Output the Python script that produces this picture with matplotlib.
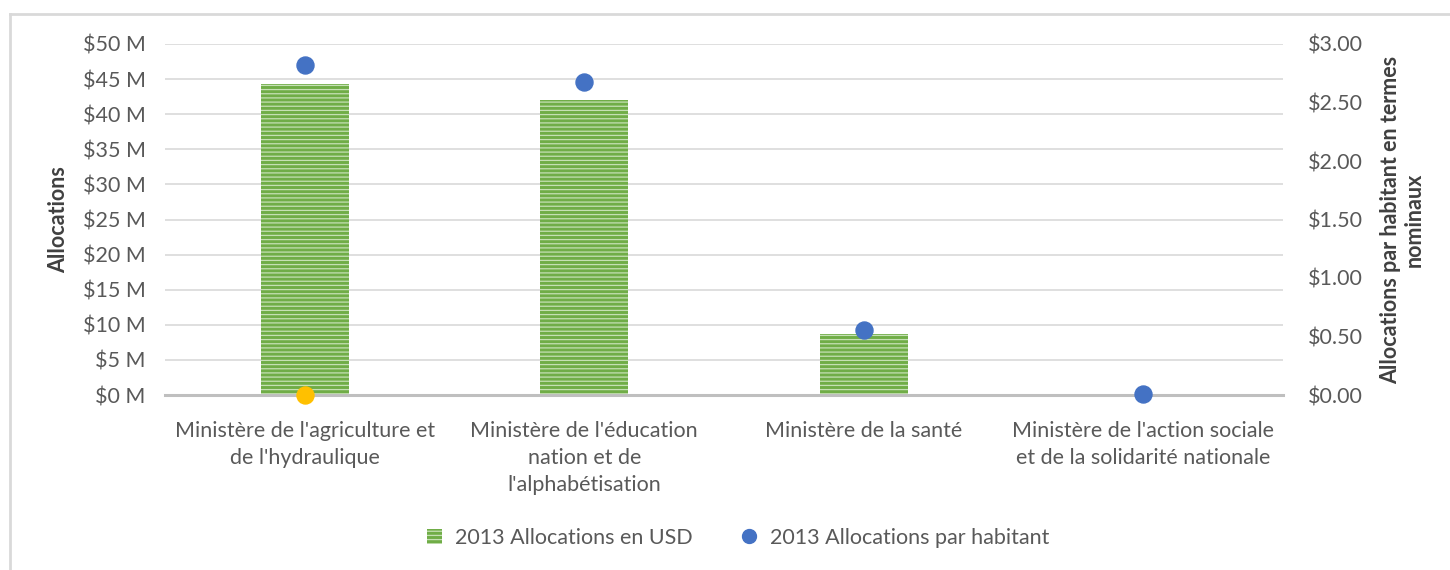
import matplotlib
matplotlib.use("Agg")
import matplotlib.pyplot as plt
from matplotlib.lines import Line2D
from matplotlib.patches import Patch
import numpy as np

plt.rcParams['font.family'] = ['Lato', 'DejaVu Sans']
plt.rcParams['hatch.color'] = '#C5E0B4'
plt.rcParams['hatch.linewidth'] = 0.9

categories = ["Ministère de l'agriculture et\nde l'hydraulique",
              "Ministère de l'éducation\nnation et de\nl'alphabétisation",
              "Ministère de la santé",
              "Ministère de l'action sociale\net de la solidarité nationale"]
alloc_usd_m = [44.3, 42.0, 8.7, 0.2]
alloc_per_capita = [2.82, 2.675, 0.556, 0.01]
extra_point = [0.0]  # orange point at first category

left_ticks = [0, 5, 10, 15, 20, 25, 30, 35, 40, 45, 50]
right_ticks = [0, 0.5, 1.0, 1.5, 2.0, 2.5, 3.0]

FS = 15.5
fig = plt.figure(figsize=(14.5, 5.7), dpi=100)
ax = fig.add_axes([165/1450, 1-395/570, (1283-165)/1450, (395-44)/570])
ax2 = ax.twinx()

x = np.arange(len(categories))
ax.bar(x, alloc_usd_m, width=0.315, color='#70AD47', hatch='----',
       edgecolor='#C5E0B4', linewidth=0, zorder=3)
ax.set_xlim(-0.5, len(categories)-0.5)
ax.set_ylim(0, 50)
ax.set_yticks(left_ticks)
ax.set_yticklabels([f"${t} M" for t in left_ticks])
ax.grid(axis='y', color='#D9D9D9', linewidth=1.2, zorder=0)
ax.set_axisbelow(True)
for s in ['top', 'right', 'left']:
    ax.spines[s].set_visible(False)
ax.spines['bottom'].set_color('#BFBFBF')
ax.spines['bottom'].set_linewidth(2.2)
ax.spines['bottom'].set_zorder(4)
ax.set_xticks(x)
ax.set_xticklabels(categories, fontsize=FS, color='#595959', linespacing=1.42)
ax.tick_params(axis='x', length=0, pad=19)
ax.tick_params(axis='y', length=0, labelsize=FS, labelcolor='#595959', pad=14)
ax.set_ylabel('Allocations', fontsize=FS, fontweight='bold', color='#404040', labelpad=10)

ax2.set_ylim(0, 3)
ax2.set_yticks(right_ticks)
ax2.set_yticklabels([f"${t:.2f}" for t in right_ticks])
ax2.tick_params(axis='y', length=0, labelsize=FS, labelcolor='#595959', pad=18)
for s in ['top', 'right', 'left', 'bottom']:
    ax2.spines[s].set_visible(False)
ax2.scatter(x, alloc_per_capita, s=150, color='#4472C4', zorder=5, clip_on=False)
ax2.scatter(x[:1], extra_point, s=150, color='#FFC000', zorder=5, clip_on=False)
ax2.set_ylabel('Allocations par habitant en termes\nnominaux', fontsize=FS,
               fontweight='bold', color='#404040', labelpad=12, linespacing=1.2)

handles = [Patch(facecolor='#70AD47', hatch='----', edgecolor='#C5E0B4', linewidth=0),
           Line2D([], [], marker='o', linestyle='', color='#4472C4', markersize=10)]
fig.legend(handles, ['2013 Allocations en USD', '2013 Allocations par habitant'],
           loc='center', bbox_to_anchor=(738/1450, 1-538/570), ncol=2, frameon=False,
           fontsize=FS, labelcolor='#595959', handlelength=0.7, handleheight=0.7,
           columnspacing=2.3, handletextpad=0.6)

fig.add_artist(Line2D([10/1450, 1], [1-14/570, 1-14/570], color='#D9D9D9', linewidth=2,
                      transform=fig.transFigure))
fig.add_artist(Line2D([10/1450, 10/1450], [0, 1-14/570], color='#D9D9D9', linewidth=2,
                      transform=fig.transFigure))

fig.savefig('out.png', dpi=100, facecolor='white')
